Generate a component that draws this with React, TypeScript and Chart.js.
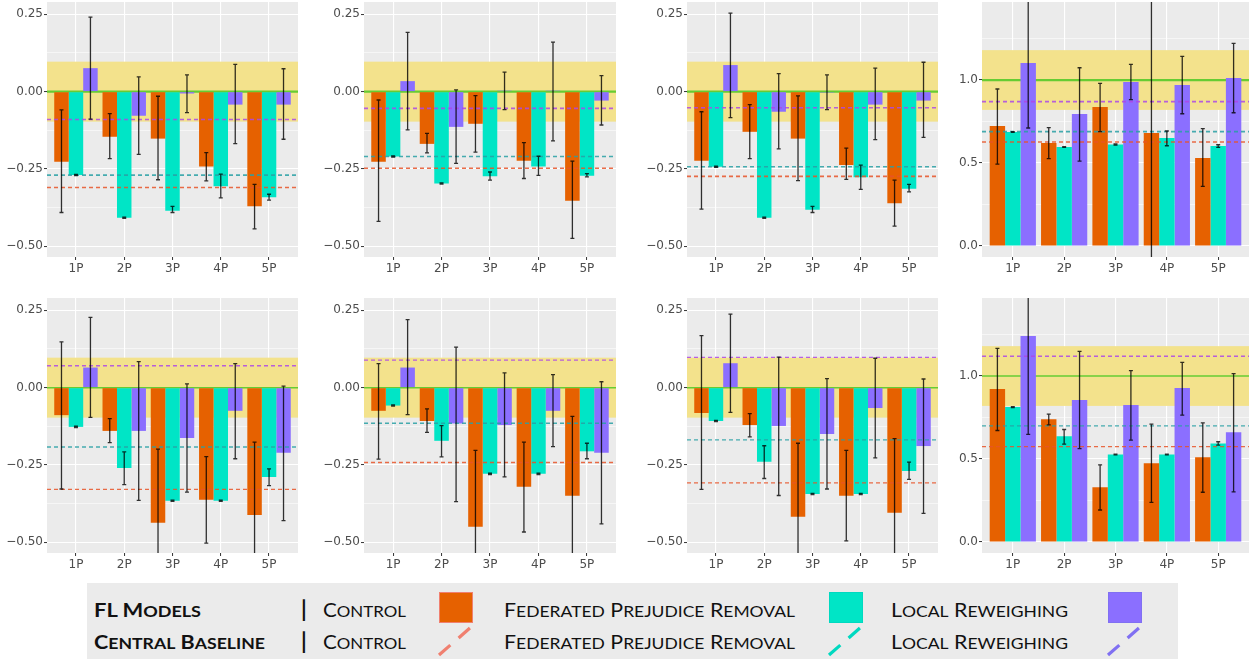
import React, { useEffect, useRef } from 'react';
import { Chart, registerables } from 'chart.js';

Chart.register(...registerables);

// ---------------- DATA ----------------
const categories = ['1P', '2P', '3P', '4P', '5P'];
const seriesNames = ['Control', 'Federated Prejudice Removal', 'Local Reweighing'];
const diffTickValues = [-0.5, -0.375, -0.25, -0.125, 0, 0.125, 0.25];
const ratioTickValues = [0, 0.25, 0.5, 0.75, 1, 1.25];

// Panel 1 (top row, col 1) — rows: Control, FPR, Local Reweighing
const p1Bars = [
  [-0.227, -0.146, -0.152, -0.242, -0.371],
  [-0.27, -0.408, -0.385, -0.306, -0.342],
  [0.076, -0.078, -0.006, -0.042, -0.042],
];
const p1Lo = [
  [-0.391, -0.217, -0.285, -0.289, -0.444],
  [-0.272, -0.41, -0.391, -0.344, -0.351],
  [-0.089, -0.203, -0.068, -0.168, -0.154],
];
const p1Hi = [
  [-0.059, -0.071, -0.015, -0.197, -0.3],
  [-0.268, -0.406, -0.371, -0.267, -0.332],
  [0.241, 0.048, 0.054, 0.088, 0.074],
];
const p1Base = [-0.31, -0.27, -0.09];

// Panel 2
const p2Bars = [
  [-0.227, -0.169, -0.104, -0.224, -0.353],
  [-0.21, -0.297, -0.274, -0.242, -0.272],
  [0.034, -0.114, 0.003, 0.003, -0.029],
];
const p2Lo = [
  [-0.42, -0.198, -0.196, -0.281, -0.475],
  [-0.212, -0.299, -0.286, -0.271, -0.276],
  [-0.124, -0.232, -0.058, -0.159, -0.108],
];
const p2Hi = [
  [-0.027, -0.135, -0.013, -0.165, -0.225],
  [-0.208, -0.295, -0.26, -0.209, -0.265],
  [0.192, 0.006, 0.063, 0.16, 0.052],
];
const p2Base = [-0.248, -0.21, -0.054];

// Panel 3
const p3Bars = [
  [-0.224, -0.13, -0.152, -0.237, -0.361],
  [-0.243, -0.408, -0.382, -0.277, -0.314],
  [0.086, -0.065, -0.003, -0.042, -0.029],
];
const p3Lo = [
  [-0.38, -0.217, -0.288, -0.284, -0.435],
  [-0.245, -0.41, -0.391, -0.316, -0.324],
  [-0.084, -0.185, -0.058, -0.155, -0.148],
];
const p3Hi = [
  [-0.065, -0.042, -0.014, -0.183, -0.286],
  [-0.241, -0.406, -0.371, -0.238, -0.3],
  [0.254, 0.058, 0.054, 0.076, 0.095],
];
const p3Base = [-0.274, -0.243, -0.052];

// Panel 4 (ratio)
const p4Bars = [
  [0.723, 0.62, 0.837, 0.681, 0.53],
  [0.687, 0.596, 0.612, 0.651, 0.602],
  [1.102, 0.795, 0.988, 0.97, 1.012],
];
const p4Lo = [
  [0.494, 0.526, 0.689, -0.3, 0.359],
  [0.685, 0.594, 0.608, 0.604, 0.594],
  [0.711, 0.512, 0.882, 0.797, 0.803],
];
const p4Hi = [
  [0.946, 0.713, 0.98, 1.7, 0.707],
  [0.689, 0.598, 0.616, 0.693, 0.61],
  [1.55, 1.074, 1.094, 1.143, 1.221],
];
const p4Base = [0.627, 0.689, 0.87];

// Panel 5 (bottom row, col 1)
const p5Bars = [
  [-0.089, -0.14, -0.4375, -0.363, -0.412],
  [-0.127, -0.26, -0.366, -0.366, -0.289],
  [0.065, -0.14, -0.163, -0.075, -0.211],
];
const p5Lo = [
  [-0.328, -0.178, -0.65, -0.503, -0.65],
  [-0.129, -0.314, -0.368, -0.368, -0.317],
  [-0.096, -0.365, -0.338, -0.23, -0.43],
];
const p5Hi = [
  [0.148, -0.1, -0.199, -0.223, -0.176],
  [-0.125, -0.208, -0.364, -0.364, -0.263],
  [0.227, 0.084, 0.012, 0.078, 0.005],
];
const p5Base = [-0.329, -0.192, 0.071];

// Panel 6
const p6Bars = [
  [-0.075, -0.108, -0.45, -0.321, -0.35],
  [-0.058, -0.172, -0.279, -0.279, -0.206],
  [0.065, -0.116, -0.121, -0.075, -0.211],
];
const p6Lo = [
  [-0.231, -0.145, -0.65, -0.467, -0.65],
  [-0.06, -0.224, -0.281, -0.281, -0.23],
  [-0.087, -0.369, -0.289, -0.191, -0.441],
];
const p6Hi = [
  [0.078, -0.069, -0.203, -0.176, -0.093],
  [-0.056, -0.123, -0.277, -0.277, -0.18],
  [0.22, 0.131, 0.048, 0.042, 0.019],
];
const p6Base = [-0.242, -0.115, 0.089];

// Panel 7
const p7Bars = [
  [-0.082, -0.121, -0.418, -0.35, -0.405],
  [-0.108, -0.24, -0.344, -0.344, -0.27],
  [0.079, -0.124, -0.15, -0.066, -0.189],
];
const p7Lo = [
  [-0.329, -0.159, -0.65, -0.496, -0.65],
  [-0.11, -0.294, -0.346, -0.346, -0.297],
  [-0.08, -0.349, -0.328, -0.227, -0.407],
];
const p7Hi = [
  [0.168, -0.084, -0.18, -0.203, -0.165],
  [-0.106, -0.188, -0.342, -0.342, -0.241],
  [0.238, 0.099, 0.029, 0.095, 0.028],
];
const p7Base = [-0.308, -0.169, 0.098];

// Panel 8 (ratio)
const p8Bars = [
  [0.922, 0.74, 0.33, 0.475, 0.511],
  [0.813, 0.638, 0.527, 0.527, 0.594],
  [1.241, 0.855, 0.825, 0.928, 0.662],
];
const p8Lo = [
  [0.672, 0.706, 0.193, 0.239, 0.3],
  [0.81, 0.59, 0.525, 0.525, 0.584],
  [0.648, 0.563, 0.614, 0.765, 0.302],
];
const p8Hi = [
  [1.167, 0.771, 0.465, 0.71, 0.718],
  [0.816, 0.678, 0.529, 0.529, 0.604],
  [1.6, 1.149, 1.032, 1.082, 1.014],
];
const p8Base = [0.575, 0.7, 1.119];

// ---------------- STYLE ----------------
const barColors = ['#E66100', '#00E5C6', '#8B6FFF'];
const dashColors = ['rgba(232,84,40,0.85)', 'rgba(40,160,165,0.85)', 'rgba(172,72,232,0.85)'];
const legendLineColors = ['#F08070', '#00D9C0', '#8070F2'];
const panelLefts = [47, 364, 687, 982];
const panelRights = [298, 616, 938, 1249];
const panelTops = [2, 298];
const PANEL_H = 255;
const YAXIS_W = 47;
const XAXIS_H = 22;
const tickFont = { family: '"DejaVu Sans", sans-serif', size: 12 };

type PanelDef = {
  bars: number[][];
  lo: number[][];
  hi: number[][];
  base: number[];
  ratio: boolean;
  col: number;
  row: number;
};

const panels: PanelDef[] = [
  { bars: p1Bars, lo: p1Lo, hi: p1Hi, base: p1Base, ratio: false, col: 0, row: 0 },
  { bars: p2Bars, lo: p2Lo, hi: p2Hi, base: p2Base, ratio: false, col: 1, row: 0 },
  { bars: p3Bars, lo: p3Lo, hi: p3Hi, base: p3Base, ratio: false, col: 2, row: 0 },
  { bars: p4Bars, lo: p4Lo, hi: p4Hi, base: p4Base, ratio: true, col: 3, row: 0 },
  { bars: p5Bars, lo: p5Lo, hi: p5Hi, base: p5Base, ratio: false, col: 0, row: 1 },
  { bars: p6Bars, lo: p6Lo, hi: p6Hi, base: p6Base, ratio: false, col: 1, row: 1 },
  { bars: p7Bars, lo: p7Lo, hi: p7Hi, base: p7Base, ratio: false, col: 2, row: 1 },
  { bars: p8Bars, lo: p8Lo, hi: p8Hi, base: p8Base, ratio: true, col: 3, row: 1 },
];

function makeConfig(p: PanelDef): any {
  const ratio = p.ratio;
  const yMin = ratio ? -0.066 : -0.535;
  const yMax = ratio ? 1.47 : 0.29;
  const tickVals = ratio ? ratioTickValues : diffTickValues;
  const majorStep = ratio ? 0.5 : 0.25;
  const refValue = ratio ? 1 : 0;
  const bandHalf = ratio ? 0.18 : 0.097;
  const isMajor = (v: number) => Math.abs(v / majorStep - Math.round(v / majorStep)) < 1e-6;
  const fmt = (v: number) => (ratio ? v.toFixed(1) : v.toFixed(2)).replace('-', '\u2212');
  const refWidth = p.row === 0 ? 2.2 : 1.5;

  const decor = {
    id: 'decor',
    beforeDraw(chart: any) {
      const { ctx, chartArea: a } = chart;
      ctx.save();
      ctx.fillStyle = '#EBEBEB';
      ctx.fillRect(a.left, a.top, a.right - a.left, a.bottom - a.top);
      ctx.restore();
    },
    beforeDatasetsDraw(chart: any) {
      const { ctx, chartArea: a } = chart;
      const ys = chart.scales.y;
      const y1 = ys.getPixelForValue(refValue + bandHalf);
      const y2 = ys.getPixelForValue(refValue - bandHalf);
      ctx.save();
      ctx.fillStyle = 'rgb(243,226,140)';
      ctx.fillRect(a.left, y1, a.right - a.left, y2 - y1);
      const yr = ys.getPixelForValue(refValue);
      ctx.strokeStyle = '#66CC33';
      ctx.lineWidth = refWidth;
      ctx.beginPath();
      ctx.moveTo(a.left, yr);
      ctx.lineTo(a.right, yr);
      ctx.stroke();
      ctx.restore();
    },
    afterDatasetsDraw(chart: any) {
      const { ctx, chartArea: a } = chart;
      const ys = chart.scales.y;
      ctx.save();
      ctx.beginPath();
      ctx.rect(a.left, a.top, a.right - a.left, a.bottom - a.top);
      ctx.clip();
      // dashed central-baseline lines
      ctx.lineWidth = p.row === 0 ? 1.6 : 1.4;
      ctx.setLineDash([4, 3]);
      p.base.forEach((v, d) => {
        const y = ys.getPixelForValue(v);
        ctx.strokeStyle = dashColors[d];
        ctx.beginPath();
        ctx.moveTo(a.left, y);
        ctx.lineTo(a.right, y);
        ctx.stroke();
      });
      ctx.setLineDash([]);
      // error bars
      ctx.strokeStyle = 'rgba(0,0,0,0.8)';
      ctx.lineWidth = 1.3;
      p.bars.forEach((_, d) => {
        const meta = chart.getDatasetMeta(d);
        meta.data.forEach((el: any, i: number) => {
          const x = el.x;
          const yl = ys.getPixelForValue(p.lo[d][i]);
          const yh = ys.getPixelForValue(p.hi[d][i]);
          ctx.beginPath();
          ctx.moveTo(x, yl);
          ctx.lineTo(x, yh);
          ctx.moveTo(x - 2, yl);
          ctx.lineTo(x + 2, yl);
          ctx.moveTo(x - 2, yh);
          ctx.lineTo(x + 2, yh);
          ctx.stroke();
        });
      });
      ctx.restore();
    },
  };

  return {
    type: 'bar',
    data: {
      datasets: p.bars.map((vals, d) => ({
        label: seriesNames[d],
        data: vals.map((v, i) => ({ x: i + 1, y: v })),
        backgroundColor: barColors[d],
        borderWidth: 0,
        categoryPercentage: 0.9,
        barPercentage: 1,
        clip: 0,
      })),
    },
    options: {
      animation: false,
      responsive: false,
      devicePixelRatio: 1,
      layout: { padding: 0 },
      plugins: { legend: { display: false }, tooltip: { enabled: false } },
      scales: {
        x: {
          type: 'linear',
          min: 0.4,
          max: 5.6,
          offset: false,
          afterBuildTicks: (s: any) => {
            s.ticks = categories.map((_, i) => ({ value: i + 1 }));
          },
          afterFit: (s: any) => {
            s.height = XAXIS_H;
            s.paddingLeft = 0;
            s.paddingRight = 0;
          },
          ticks: {
            autoSkip: false,
            maxRotation: 0,
            padding: 2,
            color: '#4D4D4D',
            font: tickFont,
            callback: (v: number) => categories[Math.round(v) - 1] ?? '',
          },
          grid: {
            offset: false,
            color: '#FFFFFF',
            lineWidth: 1.1,
            drawTicks: true,
            tickLength: 3,
            tickColor: '#333333',
            tickWidth: 1,
          },
          border: { display: false },
        },
        y: {
          type: 'linear',
          min: yMin,
          max: yMax,
          afterBuildTicks: (s: any) => {
            s.ticks = tickVals.map((v) => ({ value: v }));
          },
          afterFit: (s: any) => {
            s.width = YAXIS_W;
            s.paddingTop = 0;
            s.paddingBottom = 0;
          },
          ticks: {
            autoSkip: false,
            padding: 1,
            color: '#4D4D4D',
            font: tickFont,
            callback: (v: number) => (isMajor(v) ? fmt(v) : ''),
          },
          grid: {
            color: '#FFFFFF',
            lineWidth: (c: any) => (c.tick && !isMajor(c.tick.value) ? 0.55 : 1.1),
            drawTicks: true,
            tickLength: 3,
            tickWidth: 1,
            tickColor: (c: any) => (c.tick && !isMajor(c.tick.value) ? 'rgba(0,0,0,0)' : '#333333'),
          },
          border: { display: false },
        },
      },
    },
    plugins: [decor],
  };
}

function PanelChart({ p }: { p: PanelDef }) {
  const ref = useRef<HTMLCanvasElement | null>(null);
  const left = panelLefts[p.col] - YAXIS_W;
  const top = panelTops[p.row];
  const w = panelRights[p.col] - left;
  const h = PANEL_H + XAXIS_H;
  useEffect(() => {
    const chart = new Chart(ref.current as HTMLCanvasElement, makeConfig(p));
    return () => chart.destroy();
  }, []);
  return (
    <canvas
      ref={ref}
      width={w}
      height={h}
      style={{ position: 'absolute', left, top, width: w, height: h }}
    />
  );
}

// ---------------- LEGEND ----------------
function SmallCaps({ text }: { text: string }) {
  const parts: { s: string; small: boolean }[] = [];
  for (const ch of text) {
    const small = ch !== ch.toUpperCase();
    const last = parts[parts.length - 1];
    if (last && last.small === small) last.s += ch;
    else parts.push({ s: ch, small });
  }
  return (
    <>
      {parts.map((pt, i) =>
        pt.small ? (
          <span key={i} style={{ fontSize: '0.82em', textTransform: 'uppercase' }}>
            {pt.s}
          </span>
        ) : (
          <span key={i}>{pt.s}</span>
        )
      )}
    </>
  );
}

const legendRowTops = [598, 630];
const legendTitles = ['FL Models', 'Central Baseline'];
const legendTitleWidths = [107, 171];
const legendLabelXs = [323, 504, 891];
const legendLabelWidths = [83, 291, 177];
const legendKeyXs = [439, 829, 1108];

function Legend() {
  const textStyle = (x: number, top: number, bold: boolean): React.CSSProperties => ({
    position: 'absolute',
    left: x,
    top,
    fontFamily: 'Lato, "Open Sans", sans-serif',
    fontSize: 19.5,
    lineHeight: '23.4px',
    fontWeight: bold ? 700 : 400,
    color: '#111111',
    whiteSpace: 'nowrap',
    transformOrigin: 'left top',
  });
  return (
    <>
      <div
        style={{
          position: 'absolute',
          left: 87,
          top: 583,
          width: 1091,
          height: 76,
          background: '#EBEBEB',
        }}
      />
      {legendTitles.map((t, r) => (
        <React.Fragment key={'row' + r}>
          <div data-fit={legendTitleWidths[r]} style={textStyle(94, legendRowTops[r], true)}>
            <SmallCaps text={t} />
          </div>
          <div style={{ ...textStyle(301, legendRowTops[r] - 1, true), fontSize: 22 }}>|</div>
          {seriesNames.map((s, d) => (
            <div
              key={s}
              data-fit={legendLabelWidths[d]}
              style={textStyle(legendLabelXs[d], legendRowTops[r], false)}
            >
              <SmallCaps text={s} />
            </div>
          ))}
        </React.Fragment>
      ))}
      {seriesNames.map((s, d) => (
        <div
          key={'sq' + d}
          style={{
            position: 'absolute',
            left: legendKeyXs[d],
            top: 592,
            width: 34,
            height: 31,
            boxSizing: 'border-box',
            background: barColors[d],
            border: `1.5px solid ${legendLineColors[d]}`,
          }}
        />
      ))}
      {seriesNames.map((s, d) => (
        <svg
          key={'ln' + d}
          width={40}
          height={34}
          style={{ position: 'absolute', left: legendKeyXs[d] - 3, top: 624 }}
        >
          <line
            x1={3}
            y1={31}
            x2={34}
            y2={4}
            stroke={legendLineColors[d]}
            strokeWidth={3.2}
            strokeDasharray="15 11"
          />
        </svg>
      ))}
    </>
  );
}

export default function App() {
  const wrapRef = useRef<HTMLDivElement | null>(null);
  useEffect(() => {
    const fit = () => {
      const root = wrapRef.current;
      if (!root) return;
      root.querySelectorAll<HTMLElement>('[data-fit]').forEach((el) => {
        el.style.transform = '';
        const target = Number(el.dataset.fit);
        const w = el.getBoundingClientRect().width;
        if (w > 0) el.style.transform = `scaleX(${target / w})`;
      });
    };
    fit();
    if ((document as any).fonts && (document as any).fonts.ready) {
      (document as any).fonts.ready.then(fit);
    }
  }, []);
  return (
    <div
      ref={wrapRef}
      style={{
        position: 'absolute',
        left: 0,
        top: 0,
        width: 1251,
        height: 659,
        background: '#FFFFFF',
        overflow: 'hidden',
      }}
    >
      {panels.map((p, i) => (
        <PanelChart key={i} p={p} />
      ))}
      <Legend />
    </div>
  );
}
